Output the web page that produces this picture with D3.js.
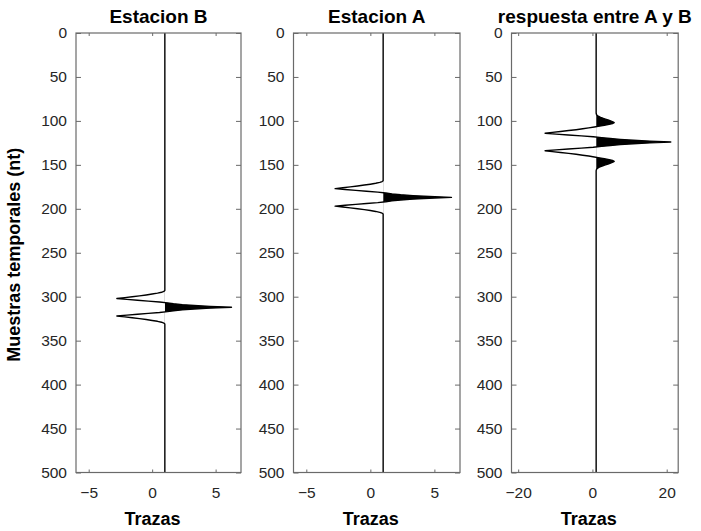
<!DOCTYPE html>
<html><head><meta charset="utf-8">
<script src="https://cdn.jsdelivr.net/npm/d3@7"></script>
<style>body{margin:0;background:#fff}svg{display:block}</style>
</head><body><svg id="c" width="701" height="531"></svg>
<script>
// ---------------- data ----------------
const titles = ["Estacion B", "Estacion A", "respuesta entre A y B"];
const xLabel = "Trazas";
const yLabel = "Muestras temporales (nt)";
const yTicks = [0, 50, 100, 150, 200, 250, 300, 350, 400, 450, 500];
const xTicksStation = [-5, 0, 5];
const xTicksResponse = [-20, 0, 20];
const xDomainStation = [-6, 7];
const xDomainResponse = [-21.8, 23.1];
const yDomain = [0, 500];
const traceOffset = 1;          // trace number (baseline position)

// Estacion B: samples starting at 293
const startB = 293;
const estacionB = [0, -0.08, -0.26, -0.58, -1.00, -1.47, -2.00, -2.57, -3.15, -3.78,
  -2.99, -2.15, -1.31, -0.42, 0.21, 0.68, 1.37, 2.31, 3.57, 5.25,
  3.57, 2.31, 1.37, 0.68, 0.21, -0.42, -1.31, -2.15, -2.99, -3.78,
  -3.15, -2.57, -2.00, -1.47, -1.00, -0.58, -0.26, -0.08, 0];

// Estacion A: samples starting at 168
const startA = 168;
const estacionA = [0, -0.08, -0.26, -0.58, -1.00, -1.47, -2.00, -2.57, -3.15, -3.75,
  -2.97, -2.14, -1.30, -0.42, 0.21, 0.68, 1.37, 2.33, 3.60, 5.33,
  3.60, 2.33, 1.37, 0.68, 0.21, -0.42, -1.30, -2.14, -2.97, -3.75,
  -3.15, -2.57, -2.00, -1.47, -1.00, -0.58, -0.26, -0.08, 0];

// respuesta entre A y B: samples starting at 91
const startR = 91;
const respuesta = [0, 0.03, 0.12, 0.35, 0.7, 1.2, 1.8, 2.5, 3.2, 3.9, 4.5, 4.85, 4.4, 3.5,
  2.2, 0.9, -0.5, -2.0, -3.6, -5.4, -7.4, -9.6, -11.8, -13.75, -10.8, -7.5, -4.0, -0.8,
  1.5, 3.8, 6.5, 10.0, 14.5, 20.1, 14.5, 10.0, 6.5, 3.8, 1.5, -0.8, -4.0, -7.5, -10.8,
  -13.75, -11.8, -9.6, -7.4, -5.4, -3.6, -2.0, -0.5, 0.9, 2.2, 3.5, 4.4, 4.85, 4.5, 3.9,
  3.2, 2.5, 1.8, 1.2, 0.7, 0.35, 0.12, 0.03, 0];

// ---------------- layout ----------------
const svg = d3.select("#c");
const plotTop = 33, plotBottom = 472.5;
const panels = [
  {left: 76,    width: 165,   title: titles[0], start: startB, vals: estacionB, dom: xDomainStation, ticks: xTicksStation},
  {left: 293.5, width: 166.5, title: titles[1], start: startA, vals: estacionA, dom: xDomainStation, ticks: xTicksStation},
  {left: 511.5, width: 166.7, title: titles[2], start: startR, vals: respuesta, dom: xDomainResponse, ticks: xTicksResponse}
];
const axisColor = "#6a6a6a";
const textColor = "#262626";
const font = "'Liberation Sans', Arial, Helvetica, sans-serif";

const y = d3.scaleLinear().domain(yDomain).range([plotTop, plotBottom]);

panels.forEach((p, i) => {
  const x = d3.scaleLinear().domain(p.dom).range([p.left, p.left + p.width]);
  const g = svg.append("g");
  const seg = p.vals.map((v, k) => ({t: p.start + k, v}));
  const full = [{t: yDomain[0], v: 0}, ...seg, {t: yDomain[1], v: 0}];

  // positive fill (variable area)
  const clipId = "clip" + i;
  svg.append("clipPath").attr("id", clipId).append("rect")
    .attr("x", x(traceOffset)).attr("y", plotTop)
    .attr("width", p.left + p.width - x(traceOffset)).attr("height", plotBottom - plotTop);
  g.append("path")
    .datum(seg)
    .attr("clip-path", `url(#${clipId})`)
    .attr("fill", "#000")
    .attr("d", d3.area().y(d => y(d.t)).x0(x(traceOffset)).x1(d => x(traceOffset + d.v)));
  // trace line
  g.append("path")
    .datum(full)
    .attr("fill", "none").attr("stroke", "#000").attr("stroke-width", 1.4)
    .attr("stroke-linejoin", "round")
    .attr("d", d3.line().x(d => x(traceOffset + d.v)).y(d => y(d.t)));

  // axes (ticks inward on all four sides)
  const styleAxis = sel => {
    sel.select(".domain").remove();
    sel.selectAll(".tick line").attr("stroke", axisColor);
    sel.selectAll(".tick text").attr("fill", textColor)
      .style("font-family", font).style("font-size", "15.5px");
  };
  g.append("g").attr("transform", `translate(${p.left},0)`)
    .call(d3.axisLeft(y).tickValues(yTicks).tickSize(-5).tickPadding(9))
    .call(styleAxis);
  g.append("g").attr("transform", `translate(${p.left + p.width},0)`)
    .call(d3.axisRight(y).tickValues(yTicks).tickSize(-5).tickFormat(""))
    .call(styleAxis);
  g.append("g").attr("transform", `translate(0,${plotBottom})`)
    .call(d3.axisBottom(x).tickValues(p.ticks).tickSize(-3).tickPadding(14).tickFormat(d3.format("d")))
    .call(styleAxis);
  g.append("g").attr("transform", `translate(0,${plotTop})`)
    .call(d3.axisTop(x).tickValues(p.ticks).tickSize(-3).tickFormat(""))
    .call(styleAxis);
  g.selectAll("g").attr("font-family", null).attr("font-size", null);

  // frame
  g.append("rect")
    .attr("x", p.left).attr("y", plotTop).attr("width", p.width).attr("height", plotBottom - plotTop)
    .attr("fill", "none").attr("stroke", axisColor).attr("stroke-width", 1.2);

  // title and x label
  g.append("text").text(p.title)
    .attr("x", p.left + p.width / 2).attr("y", 22.5)
    .attr("text-anchor", "middle").attr("fill", "#000")
    .style("font-family", font).style("font-weight", "bold").style("font-size", "19px");
  g.append("text").text(xLabel)
    .attr("x", p.left + p.width / 2 - 6).attr("y", 525)
    .attr("text-anchor", "middle").attr("fill", "#000")
    .style("font-family", font).style("font-weight", "bold").style("font-size", "18px");
});

// y label
svg.append("text").text(yLabel)
  .attr("transform", `translate(20,${(plotTop + plotBottom) / 2 + 2}) rotate(-90)`)
  .attr("text-anchor", "middle").attr("fill", "#000")
  .style("font-family", font).style("font-weight", "bold").style("font-size", "18px");
</script>
</body></html>
